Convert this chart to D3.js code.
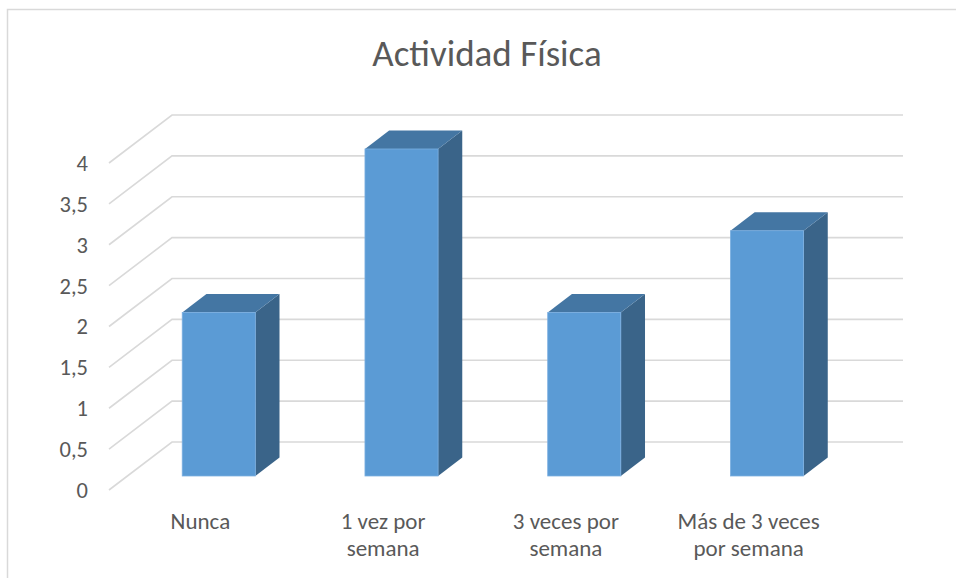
<!DOCTYPE html>
<html>
<head>
<meta charset="utf-8">
<script src="https://cdn.jsdelivr.net/npm/d3@7"></script>
<style>
  body { margin: 0; background: #fff; }
  text { font-family: Carlito, Calibri, Lato, sans-serif; fill: #595959; }
</style>
</head>
<body>
<div id="chart"></div>
<script>
const title = "Actividad Física";
const categories = ["Nunca", "1 vez por semana", "3 veces por semana", "Más de 3 veces por semana"];
const categoryLines = [["Nunca"], ["1 vez por", "semana"], ["3 veces por", "semana"], ["Más de 3 veces", "por semana"]];
const values = [2, 4, 2, 3];
const yTicks = [0, 0.5, 1, 1.5, 2, 2.5, 3, 3.5, 4];

const width = 956, height = 578;

const svg = d3.select("#chart")
  .append("svg")
  .attr("width", width)
  .attr("height", height);

// chart border (runs off the right and bottom edges)
svg.append("rect")
  .attr("x", 7.5).attr("y", 9.5)
  .attr("width", 1000).attr("height", 600)
  .attr("fill", "none")
  .attr("stroke", "#d9d9d9")
  .attr("stroke-width", 1.5);

svg.append("text")
  .attr("x", 487).attr("y", 66)
  .attr("text-anchor", "middle")
  .style("font-size", "37px")
  .text(title);

// front plane scales
const x = d3.scaleBand().domain(categories).range([109, 840]).paddingInner(0.6).paddingOuter(0.3);
const y = d3.scaleLinear().domain([0, 4]).range([490, 163]);

// depth: 0 = front plane, 1 = back wall
const depthX = d3.scaleLinear().domain([0, 1]).range([0, 63]);
const depthY = d3.scaleLinear().domain([0, 1]).range([0, -48]);
const barFront = 0.292, barBack = 0.676;

const grid = svg.append("g")
  .attr("stroke", "#d9d9d9")
  .attr("stroke-width", 1.6)
  .attr("fill", "none");

grid.selectAll("path")
  .data(yTicks)
  .enter()
  .append("path")
  .attr("d", (d) => {
    const fy = y(d);
    const bx = x.range()[0] + depthX(1), by = fy + depthY(1);
    const ex = x.range()[1] + depthX(1);
    return `M${x.range()[0]},${fy}L${bx},${by}L${ex},${by}`;
  });

svg.append("g")
  .selectAll("text")
  .data(yTicks)
  .enter()
  .append("text")
  .attr("x", 88)
  .attr("y", (d) => y(d))
  .attr("dy", "0.35em")
  .attr("text-anchor", "end")
  .style("font-size", "22.5px")
  .text((d) => String(d).replace(".", ","));

const bars = svg.append("g")
  .selectAll("g")
  .data(values)
  .enter()
  .append("g");

function pt(px, py) { return px + "," + py; }

bars.each(function (v, i) {
  const g = d3.select(this);
  const x0 = x(categories[i]), x1 = x0 + x.bandwidth();
  const ox0 = depthX(barFront), oy0 = depthY(barFront);
  const ox1 = depthX(barBack), oy1 = depthY(barBack);
  const yb = y(0), yt = y(v);

  // right side
  g.append("polygon")
    .attr("points", [pt(x1 + ox0, yt + oy0), pt(x1 + ox1, yt + oy1), pt(x1 + ox1, yb + oy1), pt(x1 + ox0, yb + oy0)].join(" "))
    .attr("fill", "#3a6489");
  // top
  g.append("polygon")
    .attr("points", [pt(x0 + ox0, yt + oy0), pt(x0 + ox1, yt + oy1), pt(x1 + ox1, yt + oy1), pt(x1 + ox0, yt + oy0)].join(" "))
    .attr("fill", "#4476a3");
  // front
  g.append("rect")
    .attr("x", x0 + ox0)
    .attr("y", yt + oy0)
    .attr("width", x.bandwidth())
    .attr("height", yb - yt)
    .attr("fill", "#5b9bd5")
    .attr("stroke", "#7aaee0")
    .attr("stroke-width", 0.8);
});

const labels = svg.append("g")
  .selectAll("text")
  .data(categories)
  .enter()
  .append("text")
  .attr("x", (d) => x(d) + x.bandwidth() / 2)
  .attr("y", 529)
  .attr("text-anchor", "middle")
  .style("font-size", "23px");

labels.each(function (d, i) {
  d3.select(this)
    .selectAll("tspan")
    .data(categoryLines[i])
    .enter()
    .append("tspan")
    .attr("x", x(d) + x.bandwidth() / 2)
    .attr("dy", (_, j) => (j === 0 ? 0 : 27))
    .text((t) => t);
});
</script>
</body>
</html>
